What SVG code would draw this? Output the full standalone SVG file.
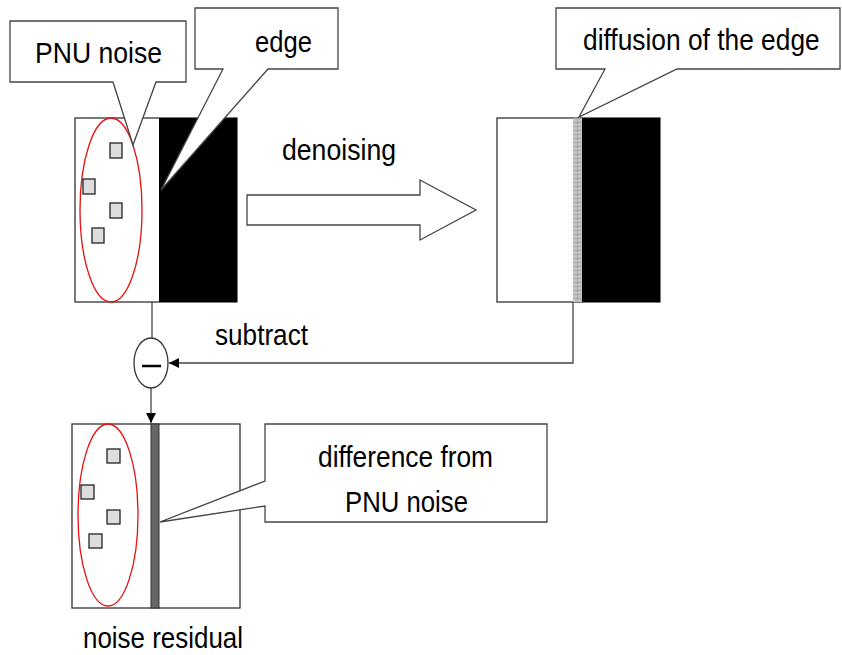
<svg xmlns="http://www.w3.org/2000/svg" width="842" height="655" viewBox="0 0 842 655">
<style>
.frame{fill:#fff;stroke:#333;stroke-width:1.3}
.blk{fill:#000}
.ell{fill:none;stroke:#e81010;stroke-width:1.3}
.sq{fill:#ddd;stroke:#222;stroke-width:1.3}
.call{fill:#fff;stroke:#444;stroke-width:1.3;stroke-linejoin:miter}
.conn{fill:none;stroke:#444;stroke-width:1.3}
text{font-family:"Liberation Sans",Arial,sans-serif;font-size:30px;fill:#000}
</style>
<defs>
<marker id="ah" viewBox="0 0 10 10" refX="10" refY="5" markerWidth="10" markerHeight="10" markerUnits="userSpaceOnUse" orient="auto">
<path d="M0,0 L10,5 L0,10 Z" fill="#000"/>
</marker>
<pattern id="grid" width="9" height="4" patternUnits="userSpaceOnUse" x="573" y="118">
<rect width="9" height="4" fill="#c4c4c4"/>
<path d="M0,0.5 H9 M4.5,0 V4" stroke="#999" stroke-width="0.6"/>
</pattern>
</defs>

<g id="original">
<rect class="frame" x="75" y="118" width="162" height="184"/>
<rect class="blk" x="159" y="118" width="78" height="184"/>
<ellipse class="ell" cx="111" cy="210" rx="31" ry="92"/>
<rect class="sq" x="110" y="143" width="12" height="15"/>
<rect class="sq" x="83" y="179" width="12" height="15"/>
<rect class="sq" x="110" y="203" width="12" height="15"/>
<rect class="sq" x="92" y="228" width="12" height="15"/>
</g>

<g id="denoised">
<rect class="frame" x="497" y="118" width="163" height="184"/>
<rect x="573" y="118" width="9" height="184" fill="url(#grid)"/>
<rect class="blk" x="582" y="118" width="78" height="184"/>
</g>

<g id="residual">
<rect class="frame" x="72" y="424" width="168" height="184"/>
<rect x="151" y="424" width="8" height="184" fill="#666" stroke="#333" stroke-width="1"/>
<ellipse class="ell" cx="108" cy="515" rx="30" ry="91"/>
<rect class="sq" x="107" y="449" width="13" height="14"/>
<rect class="sq" x="81" y="485" width="13" height="14"/>
<rect class="sq" x="107" y="510" width="13" height="14"/>
<rect class="sq" x="89" y="534" width="13" height="14"/>
</g>

<g id="denoising-arrow">
<path class="call" d="M247,195 H420 V180 L476,210 L420,240 V225 H247 Z"/>
<text x="282" y="160" textLength="114" lengthAdjust="spacingAndGlyphs">denoising</text>
</g>

<g id="subtract-node">
<ellipse cx="151" cy="363" rx="17" ry="25" fill="#fff" stroke="#333" stroke-width="1.3"/>
<line x1="142" y1="366" x2="161" y2="366" stroke="#000" stroke-width="2.5"/>
</g>

<g id="connectors">
<line class="conn" x1="152" y1="302" x2="152" y2="338"/>
<path class="conn" d="M573,302 V363 H169" marker-end="url(#ah)"/>
<line class="conn" x1="151" y1="388" x2="151" y2="423" marker-end="url(#ah)"/>
<text x="215" y="345" textLength="93" lengthAdjust="spacingAndGlyphs">subtract</text>
</g>

<g id="callout-pnu">
<path class="call" d="M10,21 H186 V82 H156 L133,145 L113,82 H10 Z"/>
<text x="35" y="63" textLength="127" lengthAdjust="spacingAndGlyphs">PNU noise</text>
</g>

<g id="callout-edge">
<path class="call" d="M195,8 H338 V69 H268 L161,190 L223,69 H195 Z"/>
<text x="255" y="52" textLength="57" lengthAdjust="spacingAndGlyphs">edge</text>
</g>

<g id="callout-diffusion">
<path class="call" d="M556,8 H840 V69 H677 L579,117 L605,69 H556 Z"/>
<text transform="translate(583,50) scale(0.878,1)">diffusion of the edge</text>
</g>

<g id="callout-difference">
<path class="call" d="M265,424 H547 V522 H265 V506 L160,522 L265,481 Z"/>
<text x="318" y="467" textLength="175" lengthAdjust="spacingAndGlyphs">difference from</text>
<text x="345" y="512" textLength="123" lengthAdjust="spacingAndGlyphs">PNU noise</text>
</g>

<g id="label-residual">
<text x="83" y="648" textLength="160" lengthAdjust="spacingAndGlyphs">noise residual</text>
</g>
</svg>
